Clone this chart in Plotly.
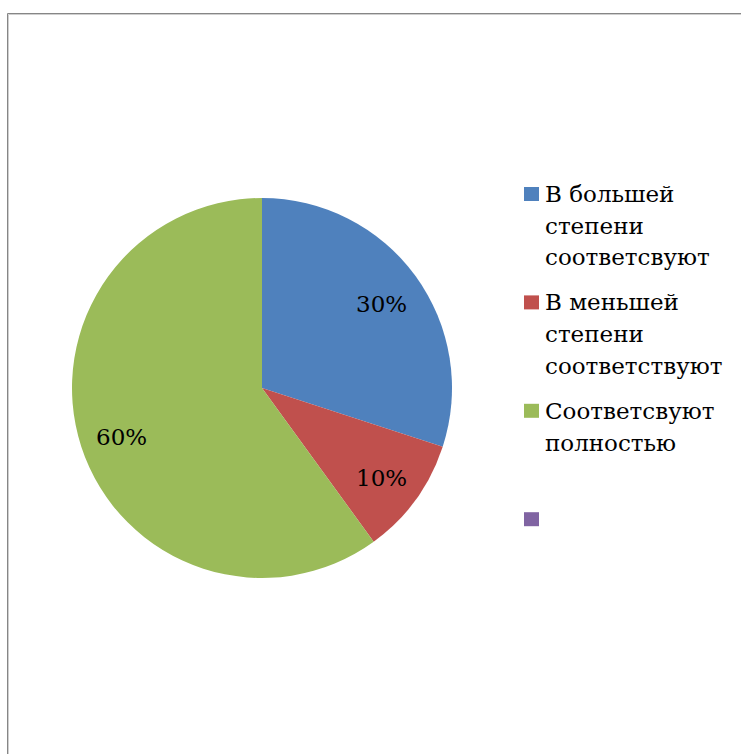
import math
import plotly.graph_objects as go

# Data
categories = ["В большей\nстепени\nсоответсвуют",
              "В меньшей\nстепени\nсоответствуют",
              "Соответсвуют\nполностью",
              ""]
values = [3, 1, 6, 0]
colors = ["#4F81BD", "#C0504D", "#9BBB59", "#8064A2"]

W, H = 741, 754
FONT = "DejaVu Serif"

# pie geometry in pixels
CX, CY, R = 262, 388, 190


def px(x):
    return x / W


def py(y):
    return 1 - y / H


fig = go.Figure()
fig.add_trace(go.Pie(
    labels=[c if c else " " for c in categories],
    values=values,
    marker=dict(colors=colors, line=dict(width=0)),
    sort=False,
    direction="clockwise",
    rotation=0,
    textinfo="none",
    hoverinfo="label+percent",
    showlegend=False,
    domain=dict(x=[px(CX - R), px(CX + R)], y=[py(CY + R), py(CY - R)]),
))

annotations = []
shapes = []

# percentage labels placed along each slice's bisector
total = sum(values)
cum = 0
for v in values:
    if v <= 0:
        cum += v
        continue
    mid = (cum + v / 2) / total
    th = 2 * math.pi * mid
    r = 0.775 * R
    x = CX + r * math.sin(th)
    y = CY - r * math.cos(th) + 3
    annotations.append(dict(
        x=px(x), y=py(y), xref="paper", yref="paper",
        text=f"{round(100 * v / total)}%", showarrow=False,
        xanchor="center", yanchor="middle",
        font=dict(family=FONT, size=23, color="#000000"),
    ))
    cum += v

# legend
LEG_SQ_X, LEG_Y0, LEG_STEP, LINE_H = 531.5, 194, 108.4, 31.7
for i, (lab, col) in enumerate(zip(categories, colors)):
    yc = LEG_Y0 + i * LEG_STEP
    shapes.append(dict(
        type="rect", xref="paper", yref="paper",
        x0=px(LEG_SQ_X - 7.5), x1=px(LEG_SQ_X + 7.5),
        y0=py(yc + 7), y1=py(yc - 7),
        fillcolor=col, line=dict(width=0),
    ))
    if lab:
        for k, line in enumerate(lab.split("\n")):
            annotations.append(dict(
                x=px(543), y=py(yc + k * LINE_H), xref="paper", yref="paper",
                text=line, showarrow=False,
                xanchor="left", yanchor="middle",
                font=dict(family=FONT, size=23, color="#000000"),
            ))

# chart area frame
shapes.append(dict(type="line", xref="paper", yref="paper",
                   x0=px(7.5), x1=px(W + 5), y0=py(13.5), y1=py(13.5),
                   line=dict(color="#868686", width=1)))
shapes.append(dict(type="line", xref="paper", yref="paper",
                   x0=px(8.5), x1=px(W + 5), y0=py(14.5), y1=py(14.5),
                   line=dict(color="#cfcfcf", width=1)))
shapes.append(dict(type="line", xref="paper", yref="paper",
                   x0=px(7.5), x1=px(7.5), y0=py(13.5), y1=py(H + 5),
                   line=dict(color="#868686", width=1)))
shapes.append(dict(type="line", xref="paper", yref="paper",
                   x0=px(8.5), x1=px(8.5), y0=py(14.5), y1=py(H + 5),
                   line=dict(color="#cfcfcf", width=1)))

fig.update_layout(
    width=W, height=H,
    margin=dict(l=0, r=0, t=0, b=0),
    paper_bgcolor="#ffffff",
    plot_bgcolor="#ffffff",
    annotations=annotations,
    shapes=shapes,
    showlegend=False,
)

fig.write_html("out.html")
